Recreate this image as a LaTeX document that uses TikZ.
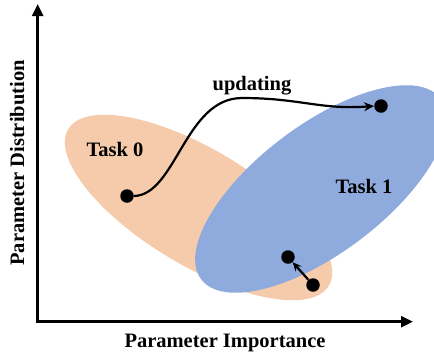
\documentclass[tikz,border=0pt]{standalone}
\usepackage{fontspec}
\setmainfont{Liberation Serif}
\usetikzlibrary{arrows.meta,shapes.geometric}
\definecolor{taskorange}{HTML}{F6CBAC}
\definecolor{taskblue}{HTML}{8FAADC}
\tikzset{
  region/.style={ellipse, inner sep=0pt, draw=none},
  dot/.style={circle, fill=black, inner sep=0pt, minimum size=13.5pt},
  lbl/.style={font=\fontsize{20.5}{24}\selectfont\bfseries, inner sep=0pt, anchor=base},
  axis/.style={line width=2.6pt, -{Triangle[length=12pt,width=11pt]}},
  curvearrow/.style={line width=2.2pt, -{Stealth[length=10pt,width=9pt]}},
}
\begin{document}
\begin{tikzpicture}[x=1pt,y=-1pt]
\useasboundingbox (0,0) rectangle (434,354);
% regions
\node[region, fill=taskorange, minimum width=304pt, minimum height=116pt, rotate=-31] (t0) at (198.5,207.5) {};
\node[region, fill=taskblue, minimum width=300pt, minimum height=128pt, rotate=37] (t1) at (321,189) {};
% axes
\coordinate (o) at (37.7,321.7);
\coordinate (ytop) at (37.7,4);
\coordinate (xend) at (413,321.7);
\draw[axis] ([yshift=1.3pt]o) -- (ytop);
\draw[axis] ([xshift=-1.3pt]o) -- (xend);
% labels
\node[lbl] (lu) at (252,90) {updating};
\node[lbl] (l0) at (115,156) {Task 0};
\node[lbl] (l1) at (364,193) {Task 1};
\node[lbl] (lx) at (225,347) {Parameter Importance};
\node[lbl, rotate=90] (ly) at (24,163) {Parameter Distribution};
% dots
\node[dot] (a) at (127,196) {};
\node[dot] (b) at (381,106) {};
\node[dot] (c) at (288,257) {};
\node[dot] (d) at (313,285) {};
% connectors
\draw[curvearrow] (a.east) .. controls (176,195) and (185,98) .. (242,98)
  .. controls (300,98) and (320,110) .. (b.west);
\draw[line width=2.2pt, -{Stealth[length=9pt,width=8pt]}] (d) -- (c);
\end{tikzpicture}
\end{document}
